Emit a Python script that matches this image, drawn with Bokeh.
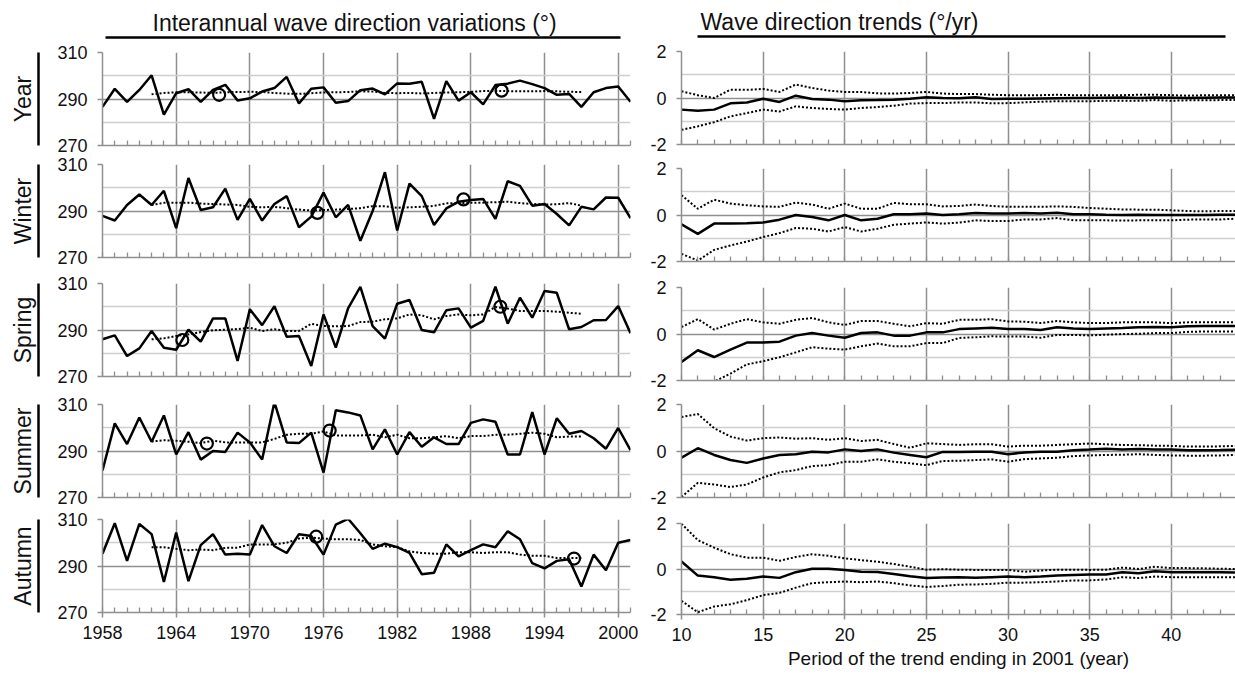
from bokeh.plotting import figure
from bokeh.layouts import row, column
from bokeh.models import Range1d, FixedTicker, LinearAxis, Title
from bokeh.embed import file_html
from bokeh.resources import INLINE

# ---------------- data ----------------
years = list(range(1958, 2002))
ma_years = list(range(1962, 1998))
periods = list(range(10, 45))

season_names = ["Year", "Winter", "Spring", "Summer", "Autumn"]

year_vals = [286.6, 294.4, 288.8, 293.9, 300.2, 283.3, 292.5, 294.2, 288.8, 293.9,
             296.1, 289.4, 290.3, 293.2, 294.7, 299.5, 288.1, 294.4, 295.0, 288.4,
             289.1, 293.8, 294.5, 292.0, 296.7, 296.6, 297.4, 281.5, 297.7, 289.3,
             292.9, 287.7, 296.0, 296.6, 297.9, 296.4, 294.7, 291.8, 292.2, 286.6,
             292.9, 294.7, 295.4, 288.8]
winter_vals = [287.9, 285.9, 292.6, 297.1, 292.6, 298.7, 282.6, 304.2, 290.4, 291.6,
               299.6, 286.2, 295.2, 285.9, 293.0, 296.4, 283.0, 287.6, 297.9, 287.3,
               292.6, 277.2, 290.0, 306.7, 281.6, 301.8, 296.4, 284.0, 291.1, 294.0,
               294.7, 295.2, 286.6, 302.8, 300.8, 292.3, 293.0, 288.7, 283.8, 291.8,
               290.7, 295.8, 295.7, 286.9]
spring_vals = [286.0, 287.7, 278.8, 282.1, 289.6, 282.4, 281.5, 290.1, 285.0, 295.0,
               295.0, 276.7, 298.9, 292.1, 300.2, 287.1, 287.4, 274.5, 296.7, 282.4,
               299.3, 308.6, 291.7, 286.3, 301.3, 302.9, 290.0, 289.0, 298.5, 299.3,
               291.0, 293.9, 308.6, 292.7, 303.9, 295.3, 306.8, 306.0, 290.3, 291.3,
               294.2, 294.3, 300.3, 288.6]
summer_vals = [281.6, 301.9, 293.0, 304.4, 294.0, 305.3, 288.5, 298.1, 286.3, 290.0,
               289.6, 297.9, 293.7, 286.3, 311.0, 293.7, 293.4, 297.9, 280.7, 307.5,
               306.6, 305.3, 290.7, 299.3, 288.5, 298.1, 291.8, 295.9, 293.0, 293.0,
               302.1, 303.6, 302.6, 288.5, 288.5, 306.7, 288.5, 304.1, 297.4, 298.6,
               295.5, 291.0, 299.9, 290.4]
autumn_vals = [295.3, 308.4, 292.2, 308.1, 303.7, 283.1, 304.4, 283.5, 299.0, 303.7,
               294.9, 295.3, 294.9, 307.6, 298.5, 295.6, 303.7, 302.9, 294.9, 307.8,
               310.3, 304.1, 297.4, 299.6, 298.1, 295.6, 286.5, 287.1, 299.3, 294.1,
               296.8, 299.3, 298.1, 304.9, 301.5, 291.2, 289.0, 292.2, 292.9, 281.2,
               294.9, 288.2, 300.0, 301.2]

year_ma = [292.0, 292.6, 292.9, 292.9, 292.8, 292.6, 292.9, 293.0, 293.1, 293.0,
           292.6, 292.3, 292.2, 292.5, 292.8, 292.9, 293.0, 293.3, 293.2, 292.6,
           292.5, 292.6, 292.4, 292.6, 292.8, 292.9, 293.1, 293.4, 293.5, 293.4,
           293.3, 293.3, 293.4, 293.3, 293.1, 293.0]
winter_ma = [292.6, 293.5, 293.6, 293.6, 293.2, 293.0, 292.8, 292.6, 291.8, 291.6,
             291.8, 291.2, 290.6, 290.2, 290.4, 290.6, 290.9, 291.2, 292.1, 292.0,
             291.4, 291.6, 291.8, 292.2, 293.3, 293.4, 293.5, 293.6, 293.8, 294.0,
             293.4, 293.0, 292.8, 292.9, 293.4, 292.3]
spring_ma = [286.0, 286.4, 287.4, 288.1, 289.1, 289.9, 290.1, 290.4, 291.0, 289.6,
             290.3, 289.6, 289.6, 292.7, 291.7, 291.6, 291.7, 293.4, 293.6, 294.6,
             295.0, 296.7, 296.3, 294.6, 296.0, 296.7, 296.3, 296.7, 299.9, 299.2,
             298.2, 298.2, 298.2, 297.9, 297.4, 297.0]
summer_ma = [294.1, 294.6, 294.4, 294.0, 293.4, 294.4, 293.7, 293.7, 293.7, 293.7,
             295.2, 297.0, 297.4, 297.4, 298.4, 296.7, 296.7, 296.7, 297.0, 295.9,
             297.0, 295.5, 295.5, 295.9, 296.4, 295.5, 296.4, 296.4, 297.0, 297.0,
             297.4, 297.9, 297.4, 295.9, 296.2, 296.2]
autumn_ma = [298.1, 298.1, 297.4, 296.8, 297.1, 296.8, 297.8, 297.9, 299.3, 299.3,
             299.3, 300.0, 301.8, 302.2, 301.8, 301.5, 301.5, 301.2, 299.3, 298.5,
             298.1, 296.3, 295.6, 295.3, 295.3, 295.9, 295.9, 295.6, 295.9, 295.9,
             294.9, 294.4, 294.4, 293.4, 293.4, 293.4]

year_cx, year_cy = [1967.5, 1990.5], [291.8, 293.6]
winter_cx, winter_cy = [1975.5, 1987.4], [289.2, 295.0]
spring_cx, spring_cy = [1964.5, 1990.4], [285.7, 300.0]
summer_cx, summer_cy = [1966.5, 1976.5], [293.2, 298.8]
autumn_cx, autumn_cy = [1975.4, 1996.4], [302.6, 293.2]

year_trend = [-0.50, -0.55, -0.50, -0.23, -0.19, -0.03, -0.17, 0.10, -0.04, -0.07,
              -0.14, -0.10, -0.09, -0.07, -0.03, 0.03, 0.00, -0.01, 0.03, -0.04,
              -0.03, -0.03, -0.02, -0.01, 0.00, 0.00, 0.01, 0.02, 0.00, 0.02,
              0.01, 0.00, 0.01, 0.02, 0.02]
year_up = [0.29, 0.12, 0.00, 0.36, 0.35, 0.39, 0.26, 0.58, 0.43, 0.32,
           0.26, 0.26, 0.20, 0.19, 0.22, 0.26, 0.19, 0.17, 0.17, 0.14,
           0.12, 0.12, 0.12, 0.14, 0.12, 0.12, 0.12, 0.12, 0.14, 0.14,
           0.12, 0.10, 0.12, 0.12, 0.12]
year_lo = [-1.37, -1.22, -1.04, -0.79, -0.65, -0.50, -0.58, -0.36, -0.43, -0.47,
           -0.50, -0.43, -0.39, -0.33, -0.24, -0.22, -0.22, -0.19, -0.19, -0.23,
           -0.22, -0.19, -0.16, -0.14, -0.14, -0.14, -0.12, -0.12, -0.12, -0.09,
           -0.12, -0.10, -0.10, -0.09, -0.09]

winter_trend = [-0.40, -0.81, -0.37, -0.37, -0.35, -0.32, -0.20, 0.00, -0.09, -0.23,
                0.00, -0.23, -0.16, 0.03, 0.03, 0.06, 0.00, 0.03, 0.09, 0.06,
                0.06, 0.09, 0.06, 0.10, 0.03, 0.03, 0.01, 0.00, 0.01, 0.00,
                0.00, 0.00, 0.00, 0.01, 0.01]
winter_up = [0.85, 0.27, 0.66, 0.49, 0.42, 0.37, 0.35, 0.53, 0.45, 0.27,
             0.49, 0.27, 0.27, 0.52, 0.46, 0.46, 0.37, 0.39, 0.45, 0.39,
             0.35, 0.35, 0.35, 0.37, 0.35, 0.30, 0.27, 0.24, 0.23, 0.23,
             0.20, 0.17, 0.16, 0.17, 0.17]
winter_lo = [-1.67, -1.96, -1.50, -1.31, -1.14, -0.95, -0.78, -0.56, -0.59, -0.71,
             -0.52, -0.71, -0.59, -0.42, -0.37, -0.32, -0.37, -0.33, -0.23, -0.26,
             -0.26, -0.19, -0.19, -0.13, -0.23, -0.23, -0.23, -0.24, -0.23, -0.23,
             -0.23, -0.20, -0.19, -0.19, -0.16]

spring_trend = [-1.20, -0.70, -0.99, -0.67, -0.37, -0.37, -0.33, -0.07, 0.04, -0.07,
                -0.16, 0.04, 0.07, -0.07, -0.07, 0.07, 0.07, 0.21, 0.24, 0.27,
                0.21, 0.21, 0.17, 0.29, 0.24, 0.21, 0.24, 0.26, 0.29, 0.30,
                0.29, 0.33, 0.34, 0.34, 0.34]
spring_up = [0.30, 0.64, 0.19, 0.44, 0.64, 0.50, 0.44, 0.61, 0.69, 0.50,
             0.39, 0.56, 0.56, 0.44, 0.33, 0.47, 0.44, 0.61, 0.61, 0.64,
             0.54, 0.53, 0.47, 0.56, 0.50, 0.47, 0.47, 0.50, 0.51, 0.50,
             0.47, 0.50, 0.51, 0.51, 0.51]
spring_lo = [-2.90, -2.50, -2.05, -1.70, -1.31, -1.17, -1.00, -0.79, -0.57, -0.63,
             -0.67, -0.53, -0.41, -0.53, -0.53, -0.39, -0.39, -0.17, -0.14, -0.10,
             -0.11, -0.11, -0.16, -0.04, -0.04, -0.06, -0.03, 0.00, 0.01, 0.04,
             0.04, 0.09, 0.11, 0.11, 0.11]

summer_trend = [-0.29, 0.12, -0.17, -0.39, -0.51, -0.32, -0.17, -0.14, -0.03, -0.06,
                0.07, 0.00, 0.07, -0.07, -0.17, -0.27, -0.04, -0.04, -0.03, -0.03,
                -0.14, -0.06, -0.03, -0.03, 0.03, 0.06, 0.10, 0.06, 0.09, 0.06,
                0.06, 0.03, 0.03, 0.04, 0.06]
summer_up = [1.46, 1.59, 0.98, 0.62, 0.45, 0.55, 0.58, 0.53, 0.55, 0.48,
             0.55, 0.43, 0.48, 0.30, 0.14, 0.33, 0.30, 0.26, 0.29, 0.29,
             0.19, 0.23, 0.23, 0.26, 0.29, 0.32, 0.29, 0.26, 0.25, 0.23,
             0.22, 0.19, 0.19, 0.20, 0.22]
summer_lo = [-1.98, -1.37, -1.44, -1.55, -1.44, -1.14, -0.92, -0.82, -0.65, -0.61,
             -0.46, -0.46, -0.36, -0.46, -0.53, -0.61, -0.43, -0.42, -0.39, -0.36,
             -0.46, -0.35, -0.32, -0.29, -0.22, -0.19, -0.17, -0.16, -0.14, -0.17,
             -0.19, -0.20, -0.20, -0.19, -0.17]

autumn_trend = [0.33, -0.29, -0.36, -0.47, -0.43, -0.33, -0.39, -0.14, 0.01, 0.01,
                -0.04, -0.12, -0.13, -0.22, -0.32, -0.40, -0.37, -0.36, -0.39, -0.36,
                -0.33, -0.36, -0.33, -0.29, -0.26, -0.24, -0.24, -0.14, -0.19, -0.10,
                -0.14, -0.14, -0.14, -0.14, -0.16]
autumn_up = [1.99, 1.27, 0.94, 0.65, 0.50, 0.50, 0.36, 0.53, 0.65, 0.58,
             0.47, 0.39, 0.32, 0.22, 0.10, -0.03, -0.01, -0.03, -0.04, -0.04,
             -0.04, -0.12, -0.07, -0.03, -0.03, -0.04, -0.03, 0.06, 0.00, 0.10,
             0.04, 0.04, 0.03, 0.01, 0.00]
autumn_lo = [-1.40, -1.90, -1.65, -1.55, -1.37, -1.15, -1.05, -0.82, -0.62, -0.58,
             -0.55, -0.58, -0.55, -0.62, -0.72, -0.79, -0.75, -0.69, -0.68, -0.65,
             -0.60, -0.60, -0.58, -0.55, -0.50, -0.50, -0.46, -0.36, -0.40, -0.33,
             -0.36, -0.36, -0.36, -0.36, -0.36]

left_xticks = [1958, 1964, 1970, 1976, 1982, 1988, 1994, 2000]
left_yticks = [270, 290, 310]
left_yminor = [280, 300]
right_xticks = [10, 15, 20, 25, 30, 35, 40]
right_yticks = [-2, 0, 2]
right_yminor = [-1, 1]

left_title = "Interannual wave direction variations (°)"
right_title = "Wave direction trends (°/yr)"
right_xlabel = "Period of the trend ending in 2001 (year)"

# ---------------- style ----------------
FONT = "Liberation Sans"
TXT = "#111111"
GRID = "#8f8f8f"
MINOR = "#cfcfcf"
SOLID_W = 2.5
DOT_W = 2.0
DOT = "2 2"


def spacer_axis(size, minor_at):
    # invisible axis that only reserves `size` pixels (white ticks on white border)
    return LinearAxis(ticker=FixedTicker(ticks=[], minor_ticks=[minor_at]),
                      axis_line_color=None,
                      major_tick_in=0, major_tick_out=size,
                      minor_tick_in=0, minor_tick_out=size,
                      major_tick_line_color="white", minor_tick_line_color="white",
                      major_label_standoff=0)


def base_fig(width, height, xr, yr, left, right, top, bottom):
    p = figure(width=width, height=height, x_range=xr, y_range=yr,
               output_backend="svg", toolbar_location=None, title=None,
               min_border_left=left, min_border_right=right,
               min_border_top=top, min_border_bottom=bottom)
    p.outline_line_color = None
    p.background_fill_color = "white"
    p.border_fill_color = "white"
    return p


def style_axes(p, xt, xminor, yt, yminor, show_x, overrides=None):
    xa = p.xaxis[0]
    ya = p.yaxis[0]
    if show_x:
        xa.ticker = FixedTicker(ticks=xt, minor_ticks=xminor)
    else:
        xa.ticker = FixedTicker(ticks=[], minor_ticks=xminor)
    p.xgrid.ticker = FixedTicker(ticks=xt)
    ya.ticker = FixedTicker(ticks=yt, minor_ticks=yminor)
    for a in (xa, ya):
        a.axis_line_color = GRID
        a.axis_line_width = 1.5
        a.major_tick_line_color = GRID
        a.major_tick_line_width = 1.5
        a.major_tick_in = 0
        a.major_tick_out = 5
        a.major_label_text_font = FONT
        a.major_label_text_font_size = "18px"
        a.major_label_text_color = TXT
        a.major_label_standoff = 10
    if overrides:
        ya.major_label_overrides = overrides
    ya.minor_tick_in = 0
    ya.minor_tick_out = 0
    xa.minor_tick_in = 5
    xa.minor_tick_out = 0
    xa.minor_tick_line_color = GRID
    xa.minor_tick_line_width = 1.3
    xa.major_label_standoff = 8
    p.xgrid.grid_line_color = GRID
    p.xgrid.grid_line_width = 1.5
    p.ygrid.grid_line_color = GRID
    p.ygrid.grid_line_width = 1.5
    p.ygrid.minor_grid_line_color = MINOR
    p.ygrid.minor_grid_line_width = 1.5


def add_header(p, text, offset, bounds, minor_at):
    p.add_layout(spacer_axis(15, minor_at), "above")
    line_ax = LinearAxis(ticker=FixedTicker(ticks=[]), bounds=bounds,
                         axis_line_color="black", axis_line_width=2.5,
                         major_tick_in=0, major_tick_out=0, minor_tick_in=0, minor_tick_out=0,
                         major_label_standoff=0)
    p.add_layout(line_ax, "above")
    t = Title(text=text, align="left", offset=offset, standoff=4,
              text_font=FONT, text_font_size="23px", text_font_style="normal",
              text_color=TXT)
    p.add_layout(t, "above")


left_vals = [year_vals, winter_vals, spring_vals, summer_vals, autumn_vals]
left_ma = [year_ma, winter_ma, spring_ma, summer_ma, autumn_ma]
left_cx = [year_cx, winter_cx, spring_cx, summer_cx, autumn_cx]
left_cy = [year_cy, winter_cy, spring_cy, summer_cy, autumn_cy]
right_tr = [year_trend, winter_trend, spring_trend, summer_trend, autumn_trend]
right_up = [year_up, winter_up, spring_up, summer_up, autumn_up]
right_lo = [year_lo, winter_lo, spring_lo, summer_lo, autumn_lo]

# frames: left tops 52,164,282,403,518 ; right tops 51,168,286,403,522 ; height 93
L_heights = [155, 112, 119, 121, 139]
L_tops = [52, 9, 16, 18, 12]
L_bottoms = [10, 10, 10, 10, 34]
R_heights = [154, 117, 119, 117, 164]
R_tops = [51, 14, 16, 14, 16]
R_bottoms = [10, 10, 10, 10, 55]

left_figs = []
right_figs = []
for i in range(5):
    last = (i == 4)
    # ---- left panel ----
    p = base_fig(640, L_heights[i], Range1d(1958, 2001), Range1d(270, 310),
                 102, 10, L_tops[i], L_bottoms[i])
    style_axes(p, left_xticks, years, left_yticks, left_yminor, last)
    p.add_layout(spacer_axis(16, 290), "left")
    lab = LinearAxis(ticker=FixedTicker(ticks=[]), bounds=(269, 310),
                     axis_label=season_names[i], axis_label_standoff=3,
                     axis_label_text_font=FONT, axis_label_text_font_size="23px",
                     axis_label_text_font_style="normal", axis_label_text_color=TXT,
                     axis_line_color="black", axis_line_width=2.5,
                     major_tick_in=0, major_tick_out=0, minor_tick_in=0, minor_tick_out=0,
                     major_label_standoff=0)
    p.add_layout(lab, "left")
    if i == 0:
        add_header(p, left_title, 50, (1958.25, 2000.2), 1980)
    p.line(ma_years, left_ma[i], line_color="black", line_width=DOT_W, line_dash=DOT)
    p.line(years, left_vals[i], line_color="black", line_width=SOLID_W)
    p.scatter(left_cx[i], left_cy[i], marker="circle", size=12, fill_color=None,
              line_color="black", line_width=2.2)
    left_figs.append(p)

    # ---- right panel ----
    q = base_fig(595, R_heights[i], Range1d(10, 43.93), Range1d(-2, 2),
                 41, 0, R_tops[i], R_bottoms[i])
    style_axes(q, right_xticks, periods, right_yticks, right_yminor, last,
               overrides={-2: "-2", 0: "0", 2: "2"})
    if i == 0:
        add_header(q, right_title, 19, (11.0, 43.3), 25)
    if last:
        xa = q.xaxis[0]
        xa.axis_label = right_xlabel
        xa.axis_label_standoff = 4
        xa.axis_label_text_font = FONT
        xa.axis_label_text_font_size = "19px"
        xa.axis_label_text_font_style = "normal"
        xa.axis_label_text_color = TXT
    q.line(periods, right_up[i], line_color="black", line_width=DOT_W, line_dash=DOT)
    q.line(periods, right_lo[i], line_color="black", line_width=DOT_W, line_dash=DOT)
    q.line(periods, right_tr[i], line_color="black", line_width=SOLID_W)
    right_figs.append(q)

layout = row(column(*left_figs), column(*right_figs))

open("out.html", "w").write(file_html(layout, INLINE))
